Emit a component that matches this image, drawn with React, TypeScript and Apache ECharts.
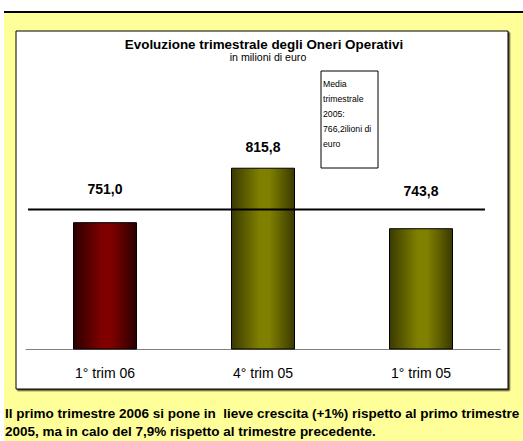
import React, { useEffect, useRef } from 'react';
import * as echarts from 'echarts';

const categories = ['1° trim 06', '4° trim 05', '1° trim 05'];
const values = [751.0, 815.8, 743.8];
const valueLabels = ['751,0', '815,8', '743,8'];
const labelDistances = [26, 14, 30];
const barColors = [
  ['#2a0000', '#800000'],
  ['#3a3a00', '#808000'],
  ['#3a3a00', '#808000'],
];
const averageValue = 766.2;
// extent of the average line along the category slots (0..3)
const averageLineSlots = [0.013, 2.905];
const titleText = 'Evoluzione trimestrale degli Oneri Operativi';
const subtitleText = 'in milioni di euro';
const noteLines = ['Media', 'trimestrale', '2005:', '766,2ilioni di', 'euro'];
const footerLines = [
  'Il primo trimestre 2006 si pone in  lieve crescita (+1%) rispetto al primo trimestre',
  '2005, ma in calo del 7,9% rispetto al trimestre precedente.',
];

const FONT = '"Liberation Sans", Arial, sans-serif';

function barGradient(edge: string, mid: string) {
  return new echarts.graphic.LinearGradient(0, 0, 1, 0, [
    { offset: 0, color: edge },
    { offset: 0.45, color: mid },
    { offset: 0.6, color: mid },
    { offset: 1, color: edge },
  ]);
}

export default function App() {
  const ref = useRef<HTMLDivElement>(null);
  useEffect(() => {
    if (!ref.current) return;
    const chart = echarts.init(ref.current, null, { renderer: 'svg' });
    chart.setOption({
      animation: false,
      backgroundColor: '#ffffff',
      grid: { left: 26, width: 474, top: 97, height: 252, containLabel: false },
      xAxis: [
        {
          type: 'category',
          data: categories,
          axisLine: { lineStyle: { color: '#808080', width: 1 } },
          axisTick: { show: false },
          axisLabel: { color: '#000', fontFamily: FONT, fontSize: 14, margin: 17 },
        },
        { type: 'value', min: 0, max: categories.length, show: false, splitLine: { show: false } },
      ],
      yAxis: { type: 'value', min: 600, max: 900, show: false, splitLine: { show: false } },
      graphic: [
        { type: 'rect', z: -10, shape: { x: 4, y: 13, width: 519, height: 428 }, style: { fill: '#FFFF99' } },
        { type: 'rect', z: -10, shape: { x: 4, y: 11, width: 519, height: 2 }, style: { fill: '#000' } },
        {
          type: 'rect', z: -9,
          shape: { x: 16, y: 31, width: 492, height: 358 },
          style: { fill: '#fff', stroke: '#000', lineWidth: 1, shadowColor: 'rgba(0,0,0,0.7)', shadowOffsetX: 1.5, shadowOffsetY: 1.5, shadowBlur: 0 },
        },
        {
          type: 'text', x: 264, y: 44,
          style: { text: titleText, font: `bold 13.4px ${FONT}`, fill: '#000', textAlign: 'center', textVerticalAlign: 'middle' },
        },
        {
          type: 'text', x: 268, y: 57,
          style: { text: subtitleText, font: `10.6px ${FONT}`, fill: '#000', textAlign: 'center', textVerticalAlign: 'middle' },
        },
        {
          type: 'rect', z: 5,
          shape: { x: 321, y: 71, width: 57, height: 97 },
          style: { fill: '#fff', stroke: '#000', lineWidth: 1 },
        },
        {
          type: 'text', z: 6, x: 323, y: 76,
          style: { text: noteLines.join('\n'), font: `8.7px ${FONT}`, lineHeight: 15, fill: '#000', textAlign: 'left', textVerticalAlign: 'top' },
        },
        {
          type: 'text', x: 5, y: 404,
          style: { text: footerLines.join('\n'), font: `bold 13.5px ${FONT}`, lineHeight: 18, fill: '#000', textAlign: 'left', textVerticalAlign: 'top' },
        },
      ],
      series: [
        {
          type: 'bar',
          barWidth: 64,
          data: values.map((v, i) => ({
            value: v,
            itemStyle: { color: barGradient(barColors[i][0], barColors[i][1]), borderColor: '#000', borderWidth: 1 },
            label: {
              show: true,
              position: 'top',
              distance: labelDistances[i],
              formatter: valueLabels[i],
              fontFamily: FONT,
              fontWeight: 'bold',
              fontSize: 14,
              color: '#000',
            },
          })),
        },
        {
          type: 'line',
          xAxisIndex: 1,
          symbol: 'none',
          silent: true,
          z: 3,
          lineStyle: { color: '#000', width: 2 },
          data: averageLineSlots.map((s) => [s, averageValue]),
        },
      ],
    });
    return () => chart.dispose();
  }, []);
  return <div ref={ref} style={{ position: 'absolute', left: 0, top: 0, width: 523, height: 441 }} />;
}
